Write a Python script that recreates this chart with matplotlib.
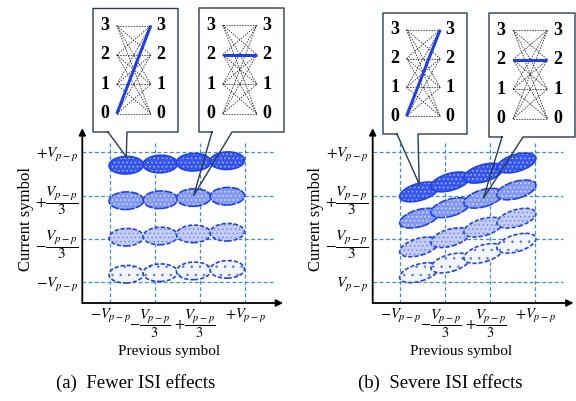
import numpy as np
import matplotlib.pyplot as plt
from matplotlib.patches import Ellipse
from matplotlib.lines import Line2D
import matplotlib.transforms as mtransforms

plt.rcParams['font.family'] = 'serif'
plt.rcParams['font.serif'] = ['Liberation Serif', 'DejaVu Serif']
plt.rcParams['mathtext.fontset'] = 'stix'
plt.rcParams['hatch.linewidth'] = 0.6

# PAM4 levels and their amplitudes (in units of Vp-p)
levels = [0, 1, 2, 3]
amp = [-1, -1/3, 1/3, 1]

xlabels = [r'$-V_{p-p}$', r'$-\dfrac{V_{p-p}}{3}$', r'$+\dfrac{V_{p-p}}{3}$', r'$+V_{p-p}$']
ylabels_a = [r'$-V_{p-p}$', r'$-\dfrac{V_{p-p}}{3}$', r'$+\dfrac{V_{p-p}}{3}$', r'$+V_{p-p}$']
ylabels_b = [r'$V_{p-p}$', r'$-\dfrac{V_{p-p}}{3}$', r'$+\dfrac{V_{p-p}}{3}$', r'$+V_{p-p}$']

# eye centres: x = previous symbol, rows = current symbol level 0..3
fewer_x = [-0.759, -0.255, 0.240, 0.738]
fewer_y = [[-0.877, -0.854, -0.826, -0.803],
           [-0.308, -0.289, -0.257, -0.231],
           [0.254, 0.269, 0.303, 0.323],
           [0.800, 0.818, 0.846, 0.869]]
severe_x = [-0.721, -0.259, 0.230, 0.719]
severe_y = [[-0.854, -0.705, -0.558, -0.400],
            [-0.457, -0.315, -0.154, -0.015],
            [-0.015, 0.146, 0.292, 0.420],
            [0.389, 0.543, 0.677, 0.834]]

# highlighted transitions (previous, current)
trans_a = [(0, 3), (2, 2)]
trans_b = [(0, 3), (2, 2)]

# per level: face colour, hatch colour, hatch, outline style
face = ['#f4f6ff', '#c3cdf8', '#8399f2', '#3656ee']
hatch_col = ['#5a78ee', '#7388ef', '#d6deff', '#a9baff']
hatch = ['..', '....', '....', '....']
edge_ls = [(0, (2.5, 1.2)), (0, (2.5, 1.2)), (0, (5, 0.8)), '-']
edge_col = '#1f43e8'
grid_col = '#3a8ed6'

W, H = 576, 401
fig = plt.figure(figsize=(W / 100, H / 100), dpi=100)

x0, y0 = -1.41, -1.32
xmax, ymax = 1.62, 1.40
sx, sy = 67.5, 65.0


def px_box(l, t, r, b):
    return [l / W, 1 - b / H, (r - l) / W, (b - t) / H]


def draw_panel(left_px, ex, ey, ew, eh, eang, ylabels):
    ax = fig.add_axes(px_box(left_px, 303 - (ymax - y0) * sy,
                             left_px + (xmax - x0) * sx, 303))
    ax.set_xlim(x0, xmax)
    ax.set_ylim(y0, ymax)
    for s in ax.spines.values():
        s.set_visible(False)

    for a in amp:
        ax.plot([x0, 1.415], [a, a], color=grid_col, lw=0.9, ls=(0, (3, 2)), zorder=1)
        ax.plot([a, a], [y0, 1.16], color=grid_col, lw=0.9, ls=(0, (3, 2)), zorder=1)

    for lv in levels:
        for j, cx in enumerate(ex):
            cy = ey[lv][j]
            ax.add_patch(Ellipse((cx, cy), ew, eh, angle=eang, facecolor=face[lv],
                                 edgecolor=hatch_col[lv], lw=0, hatch=hatch[lv], zorder=2 + j * 0.1))
            ax.add_patch(Ellipse((cx, cy), ew, eh, angle=eang, fill=False,
                                 edgecolor=edge_col, lw=1.2, ls=edge_ls[lv], zorder=2.05 + j * 0.1))

    ax.annotate('', xy=(1.565, y0), xytext=(x0, y0),
                arrowprops=dict(arrowstyle='-|>', lw=1.3, color='black',
                                mutation_scale=10, shrinkA=0, shrinkB=0))
    ax.annotate('', xy=(x0, 1.37), xytext=(x0, y0),
                arrowprops=dict(arrowstyle='-|>', lw=1.3, color='black',
                                mutation_scale=10, shrinkA=0, shrinkB=0))

    ax.set_xticks(amp, xlabels, fontsize=10.5)
    ax.set_yticks(amp, ylabels, fontsize=11)
    ax.tick_params(length=0, pad=3)
    shift = mtransforms.ScaledTranslation(-3.5 / 72, 0, fig.dpi_scale_trans)
    for k in (1, 2):
        lab = ax.get_xticklabels()[k]
        lab.set_transform(lab.get_transform() + shift)
    return ax


def callout(ax, ex, ey, box, base, prev, cur, dy):
    l, t, r, b = box
    tip = ax.transData.transform((ex[prev], ey[cur][prev] + dy))
    tip = fig.transFigure.inverted().transform(tip)
    pts = [(base[0] / W, 1 - b / H), tuple(tip), (base[1] / W, 1 - b / H),
           (r / W, 1 - b / H), (r / W, 1 - t / H), (l / W, 1 - t / H),
           (l / W, 1 - b / H), (base[0] / W, 1 - b / H)]
    xs, ys = zip(*pts)

    iax = fig.add_axes(px_box(l, t, r, b), zorder=4)
    iax.set_xlim(0, 1)
    iax.set_ylim(-0.62, 3.58)
    iax.set_facecolor('white')
    iax.set_xticks([])
    iax.set_yticks([])
    for s in iax.spines.values():
        s.set_visible(False)
    xl, xr = 0.28, 0.68
    for i in levels:
        for j in levels:
            iax.plot([xl, xr], [i, j], color='#222222', lw=0.55, ls=(0, (2, 1.5)))
    iax.plot([xl, xr], [prev, cur], color='#1f3fe8', lw=2.2, solid_capstyle='butt')
    for lv in levels:
        iax.text(0.14, lv, str(lv), ha='center', va='center', fontsize=13, fontweight='bold')
        iax.text(0.80, lv, str(lv), ha='center', va='center', fontsize=13, fontweight='bold')

    fig.add_artist(Line2D(xs, ys, transform=fig.transFigure, color='#2b3a55',
                          lw=1.0, zorder=5))


ax_a = draw_panel(82.3, fewer_x, fewer_y, 0.51, 0.27, 2, ylabels_a)
ax_b = draw_panel(372.7, severe_x, severe_y, 0.60, 0.26, 17, ylabels_b)

callout(ax_a, fewer_x, fewer_y, (93, 8.5, 178, 132), (108, 127), *trans_a[0], 0.13)
callout(ax_a, fewer_x, fewer_y, (199, 8, 284, 132), (212, 232), *trans_a[1], 0.03)
callout(ax_b, severe_x, severe_y, (383, 13, 467, 134), (397, 418), *trans_b[0], 0.12)
callout(ax_b, severe_x, severe_y, (489, 13, 575, 137), (502, 523), *trans_b[1], 0.0)

for cx, lx in [(169, 26), (461, 316)]:
    fig.text(lx / W, 1 - 219 / H, 'Current symbol', rotation=90, ha='center', va='center', fontsize=12)
    fig.text(cx / W, 1 - 351 / H, 'Previous symbol', ha='center', va='center', fontsize=11)
for cx, cap in [(136, '(a)  Fewer ISI effects'), (440, '(b)  Severe ISI effects')]:
    fig.text(cx / W, 1 - 383 / H, cap, ha='center', va='center', fontsize=13.5)

fig.savefig('out.png', dpi=100)
